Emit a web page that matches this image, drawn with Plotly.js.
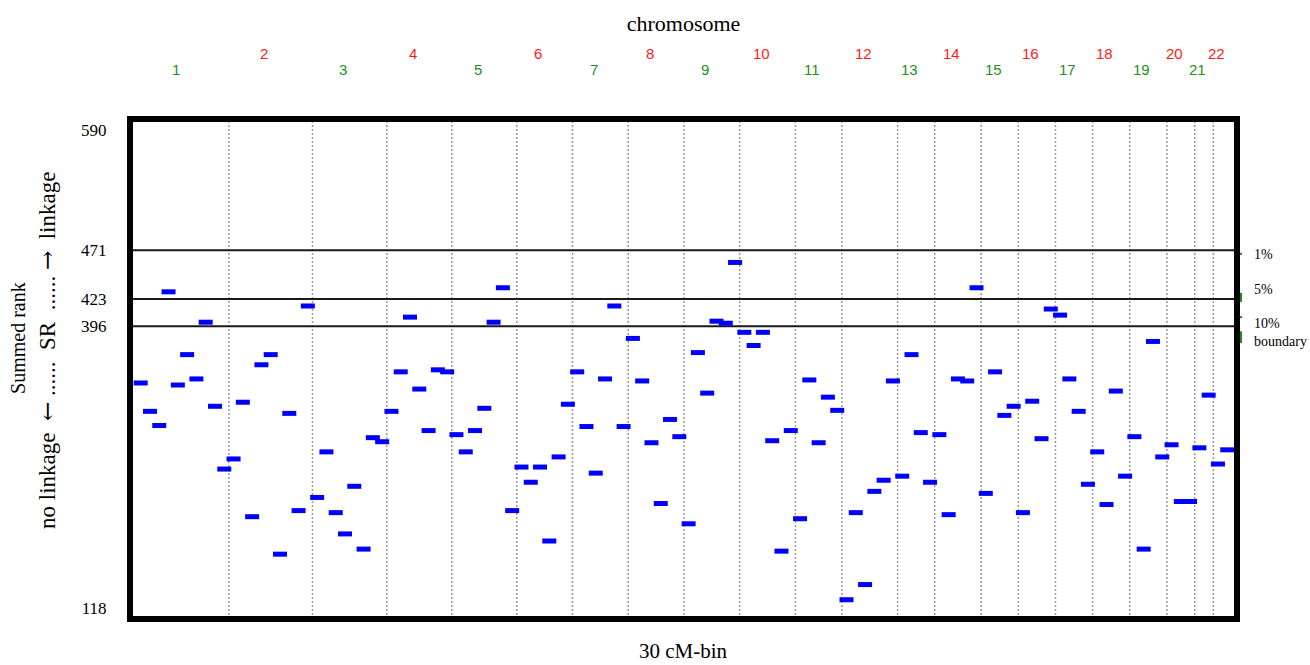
<!DOCTYPE html>
<html>
<head>
<meta charset="utf-8">
<script src="https://cdn.plot.ly/plotly-3.0.1.min.js"></script>
<style>
  html, body { margin: 0; padding: 0; background: #ffffff; }
  #chart { width: 1310px; height: 665px; }
</style>
</head>
<body>
<div id="chart"></div>
<script>
// ---- data ----
const chromosomes = ['1','2','3','4','5','6','7','8','9','10','11','12','13','14','15','16','17','18','19','20','21','22'];
const binsPerChromosome = [10,9,8,7,7,6,6,6,6,6,5,6,4,5,4,4,4,4,4,3,2,2];
const summedRank = [
  340, 312, 298, 430, 338, 368, 344, 400, 317, 255,   // 1
  265, 321, 208, 358, 368, 171, 310, 214, 416,        // 2
  227, 272, 212, 191, 238, 176, 286, 282,             // 3
  312, 351, 405, 334, 293, 353, 351,                  // 4
  289, 272, 293, 315, 400, 434, 214,                  // 5
  257, 242, 257, 184, 267, 319,                       // 6
  351, 297, 251, 344, 416, 297,                       // 7
  384, 342, 281, 221, 304, 287,                       // 8
  201, 370, 330, 401, 399, 459,                       // 9
  390, 377, 390, 283, 174, 293,                       // 10
  206, 343, 281, 326, 313,                            // 11
  126, 212, 141, 233, 244, 342,                       // 12
  248, 368, 291, 242,                                 // 13
  289, 210, 344, 342, 434,                            // 14
  231, 351, 308, 317,                                 // 15
  212, 322, 285, 413,                                 // 16
  407, 344, 312, 240,                                 // 17
  272, 220, 332, 248,                                 // 18
  287, 176, 381, 267,                                 // 19
  279, 223, 223,                                      // 20
  276, 328,                                           // 21
  260, 274                                            // 22
];
const thresholdValues = [471, 423, 396];
const yTickValues = [590, 471, 423, 396, 118];
const yTickLabels = ['590', '471', '423', '396', '118'];
const markLow  = [466.5, 420, 404, 379.5];
const markHigh = [468.5, 429, 406, 391];

// ---- derived ----
const binIndex = summedRank.map((_, i) => i + 1);
const boundaries = [];
const centers = [];
let cum = 0;
binsPerChromosome.forEach((n, k) => {
  centers.push(cum + (n + 1) / 2);
  cum += n;
  if (k < binsPerChromosome.length - 1) boundaries.push(cum + 0.5);
});

const serif = '"Liberation Serif", "Times New Roman", Times, serif';
const sans = '"Liberation Sans", Arial, sans-serif';

const shapes = [];
boundaries.forEach(b => shapes.push({
  type: 'line', xref: 'x', yref: 'paper', x0: b, x1: b, y0: 0, y1: 1,
  line: { color: '#9a9a9a', width: 1.5, dash: '2px,2px' }, layer: 'below'
}));
thresholdValues.forEach(v => shapes.push({
  type: 'line', xref: 'paper', yref: 'y', x0: 0, x1: 1, y0: v, y1: v,
  line: { color: '#1a1a1a', width: 2 }, layer: 'below'
}));
markLow.forEach((lo, i) => shapes.push({
  type: 'rect', xref: 'paper', yref: 'y', x0: 1.0, x1: 1.0045, y0: lo, y1: markHigh[i],
  line: { width: 0 }, fillcolor: '#1a8c1a', layer: 'above'
}));
shapes.push({
  type: 'rect', xref: 'paper', yref: 'paper', x0: 0, x1: 1, y0: 0, y1: 1,
  line: { color: '#000000', width: 6 }, fillcolor: 'rgba(0,0,0,0)', layer: 'above'
});

const arrowL = '<span style="font-family:\'DejaVu Serif\'">\u2190</span>';
const arrowR = '<span style="font-family:\'DejaVu Serif\'">\u2192</span>';
const nb = '\u00a0';

const annotations = [];
chromosomes.forEach((c, k) => {
  const even = (k % 2 === 1);
  annotations.push({
    text: c, xref: 'x', yref: 'paper', x: centers[k] - 0.7, y: even ? 1.132 : 1.098,
    xanchor: 'center', yanchor: 'middle', showarrow: false,
    font: { family: sans, size: 15, color: even ? '#ff1a1a' : '#1f8f1f' }
  });
});
annotations.push(
  { text: '1%', xref: 'paper', yref: 'y', x: 1.0135, y: thresholdValues[0], yshift: -4,
    xanchor: 'left', yanchor: 'middle', showarrow: false, font: { family: serif, size: 14, color: '#000' } },
  { text: '5%', xref: 'paper', yref: 'y', x: 1.0135, y: thresholdValues[1], yshift: 9,
    xanchor: 'left', yanchor: 'middle', showarrow: false, font: { family: serif, size: 14, color: '#000' } },
  { text: '10%<br>boundary', xref: 'paper', yref: 'y', x: 1.0135, y: thresholdValues[2], yshift: -6,
    xanchor: 'left', yanchor: 'middle', align: 'left', showarrow: false, font: { family: serif, size: 14, color: '#000' } },
  { text: '30 cM-bin', xref: 'paper', yref: 'paper', x: 0.5, y: -0.064,
    xanchor: 'center', yanchor: 'middle', showarrow: false, font: { family: serif, size: 21, color: '#000' } },
  { text: 'Summed rank', xref: 'paper', yref: 'paper', x: -0.1012, y: 0.562, textangle: -90,
    xanchor: 'center', yanchor: 'middle', showarrow: false, font: { family: serif, size: 20, color: '#000' } },
  { text: 'no linkage' + nb + nb + arrowL + nb + '......' + nb + nb + 'SR' + nb + nb + '......' + nb + arrowR + nb + nb + 'linkage',
    xref: 'paper', yref: 'paper', x: -0.075, y: 0.538, textangle: -90,
    xanchor: 'center', yanchor: 'middle', showarrow: false, font: { family: serif, size: 23, color: '#000' } }
);

const trace = {
  type: 'scatter', mode: 'markers', x: binIndex, y: summedRank,
  marker: { symbol: 'line-ew', size: 10, color: '#0000ff', line: { color: '#0000ff', width: 5 } },
  hoverinfo: 'x+y', showlegend: false
};

const layout = {
  width: 1310, height: 665,
  margin: { l: 130, r: 73, t: 119, b: 46, pad: 0 },
  paper_bgcolor: '#ffffff', plot_bgcolor: '#ffffff',
  showlegend: false,
  title: { text: 'chromosome', x: 0.5, xref: 'paper', xanchor: 'center', y: 1 - 23 / 665, yref: 'container', yanchor: 'middle',
           font: { family: serif, size: 22, color: '#000' } },
  xaxis: { range: [-0.152, 119.05], showgrid: false, zeroline: false, showticklabels: false, ticks: '', showline: false, fixedrange: true },
  yaxis: { range: [107.0, 600.6], showgrid: false, zeroline: false, showline: false,
           tickmode: 'array', tickvals: yTickValues, ticktext: yTickLabels,
           ticks: 'outside', ticklen: 19, tickcolor: 'rgba(0,0,0,0)',
           tickfont: { family: serif, size: 17, color: '#000' }, fixedrange: true },
  shapes: shapes,
  annotations: annotations
};

Plotly.newPlot('chart', [trace], layout, { displayModeBar: false, staticPlot: true });
</script>
</body>
</html>
